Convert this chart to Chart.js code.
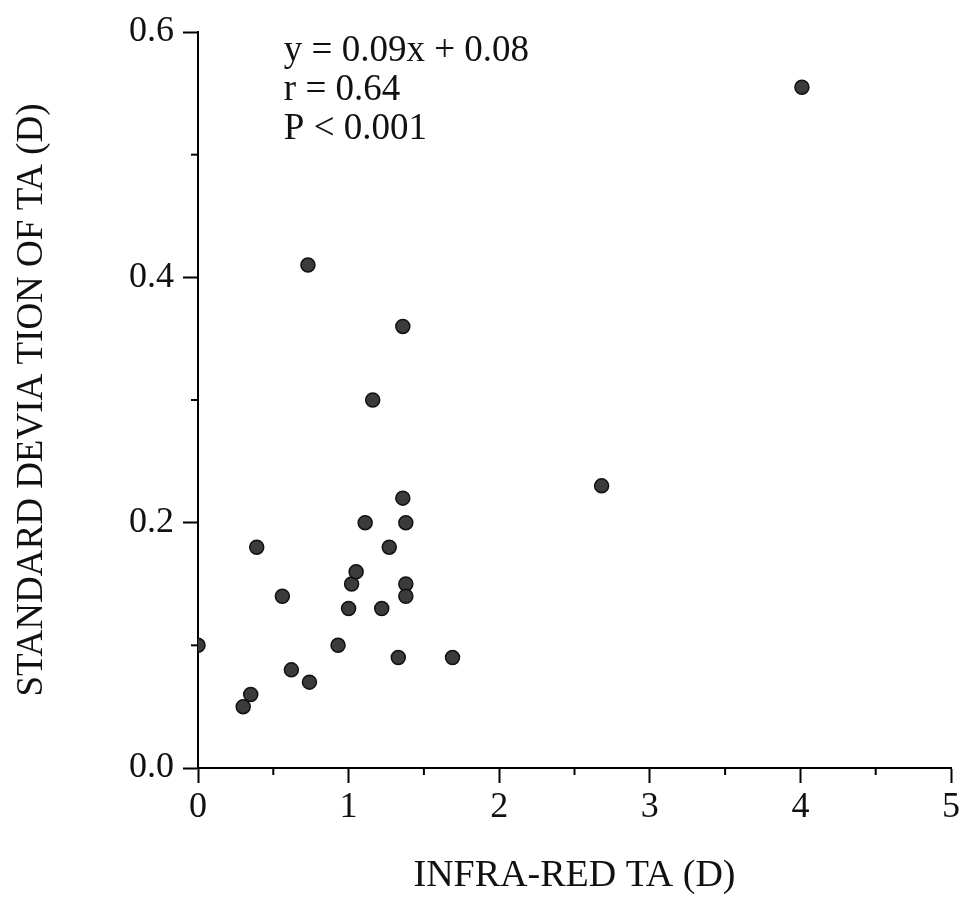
<!DOCTYPE html>
<html>
<head>
<meta charset="utf-8">
<script src="https://cdn.jsdelivr.net/npm/chart.js@4"></script>
<style>
  body { margin: 0; background: #fff; }
  #wrap { width: 963px; height: 921px; }
</style>
</head>
<body>
<div id="wrap"><canvas id="myChart"></canvas></div>
<script>
// infra-red TA (D) vs standard deviation of TA (D)
var irTA = [0.00, 0.30, 0.35, 0.39, 0.56, 0.62, 0.74, 0.73, 0.93, 1.00, 1.02, 1.05, 1.11, 1.16, 1.22, 1.27, 1.33, 1.36, 1.36, 1.38, 1.38, 1.38, 1.69, 2.68, 4.01];
var sdTA = [0.10, 0.05, 0.06, 0.18, 0.14, 0.08, 0.07, 0.41, 0.10, 0.13, 0.15, 0.16, 0.20, 0.30, 0.13, 0.18, 0.09, 0.36, 0.22, 0.20, 0.15, 0.14, 0.09, 0.23, 0.555];

var xTicks = [0, 1, 2, 3, 4, 5];
var yTicks = [0.0, 0.2, 0.4, 0.6];
var statLines = ["y = 0.09x + 0.08", "r = 0.64", "P < 0.001"];

var serif = "'Liberation Serif', 'DejaVu Serif', serif";

var points = [];
for (let i = 0; i < irTA.length; i++) {
  points.push({x: irTA[i], y: sdTA[i]});
}

function isMajor(list, v) {
  return list.some(function (t) { return Math.abs(t - v) < 1e-6; });
}

// short minor ticks + stats text
var extras = {
  id: "extras",
  afterDraw: function (chart) {
    var ctx = chart.ctx;
    var xs = chart.scales.x, ys = chart.scales.y;
    ctx.save();
    ctx.strokeStyle = "#000";
    ctx.lineWidth = 2;
    for (let v = 0.5; v < 5; v += 1) {
      var px = xs.getPixelForValue(v);
      ctx.beginPath();
      ctx.moveTo(px, ys.bottom);
      ctx.lineTo(px, ys.bottom + 7);
      ctx.stroke();
    }
    for (let v = 0.1; v < 0.6; v += 0.2) {
      var py = ys.getPixelForValue(v);
      ctx.beginPath();
      ctx.moveTo(xs.left, py);
      ctx.lineTo(xs.left - 7, py);
      ctx.stroke();
    }
    ctx.fillStyle = "#111";
    ctx.font = "37px " + serif;
    ctx.textBaseline = "middle";
    ctx.textAlign = "left";
    var tx = xs.getPixelForValue(0.57);
    for (let i = 0; i < statLines.length; i++) {
      ctx.fillText(statLines[i], tx, ys.top + 19 + i * 39);
    }
    ctx.restore();
  }
};

new Chart("myChart", {
  type: "scatter",
  data: {
    datasets: [{
      data: points,
      pointRadius: 7,
      pointHoverRadius: 7,
      backgroundColor: "#3b3b3b",
      borderColor: "#111",
      borderWidth: 1.5
    }]
  },
  options: {
    responsive: true,
    maintainAspectRatio: false,
    animation: false,
    events: [],
    layout: {padding: {left: 0, right: 0, top: 32, bottom: 0}},
    plugins: {
      legend: {display: false},
      tooltip: {enabled: false}
    },
    scales: {
      x: {
        type: "linear",
        min: 0,
        max: 5,
        afterFit: function (s) { s.height = 153; },
        border: {display: true, color: "#000", width: 2},
        grid: {
          drawOnChartArea: false,
          drawTicks: true,
          tickLength: 15,
          tickWidth: 2,
          tickColor: "#000"
        },
        ticks: {
          stepSize: 1,
          padding: 3,
          color: "#111",
          font: {family: serif, size: 36},
          maxRotation: 0,
          callback: function (v) { return isMajor(xTicks, v) ? String(v) : ""; }
        },
        title: {
          display: true,
          text: "INFRA-RED TA (D)",
          color: "#111",
          font: {family: serif, size: 38},
          padding: {top: 0, bottom: 22}
        }
      },
      y: {
        type: "linear",
        min: 0,
        max: 0.6,
        afterFit: function (s) { s.width = 198; },
        border: {display: true, color: "#000", width: 2},
        grid: {
          drawOnChartArea: false,
          drawTicks: true,
          tickLength: 15,
          tickWidth: 2,
          tickColor: "#000"
        },
        ticks: {
          stepSize: 0.2,
          padding: 9,
          color: "#111",
          font: {family: serif, size: 36},
          callback: function (v) { return isMajor(yTicks, v) ? v.toFixed(1) : ""; }
        },
        title: {
          display: true,
          text: "STANDARD DEVIA TION OF TA (D)",
          color: "#111",
          font: {family: serif, size: 37},
          padding: {top: 10, bottom: 0}
        }
      }
    }
  },
  plugins: [extras]
});
</script>
</body>
</html>
